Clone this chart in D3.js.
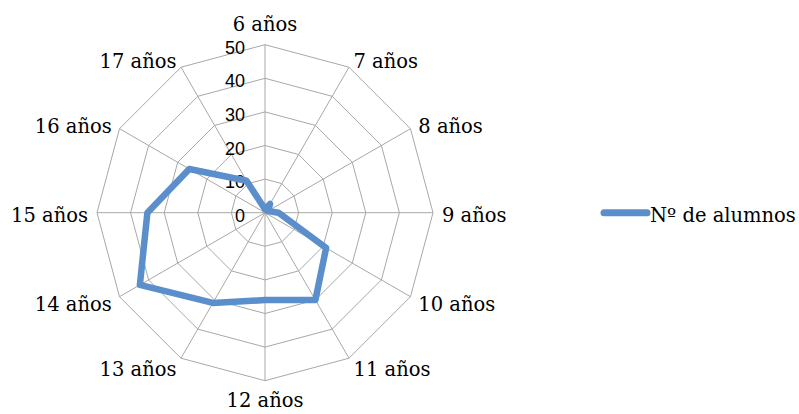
<!DOCTYPE html>
<html>
<head>
<meta charset="utf-8">
<title>Nº de alumnos</title>
<script src="https://cdn.jsdelivr.net/npm/d3@7"></script>
<style>
  body { margin: 0; background: #fff; }
</style>
</head>
<body>
<div id="chart"></div>
<script>
// data
var categories = ["6 años", "7 años", "8 años", "9 años", "10 años", "11 años",
                  "12 años", "13 años", "14 años", "15 años", "16 años", "17 años"];
var alumnos = [1, 3, 1, 4, 21, 30, 26, 31, 43, 35, 26, 11];
var ticks = [0, 10, 20, 30, 40, 50];
var seriesName = "Nº de alumnos";

var width = 799, height = 414;
var cx = 265, cy = 212.7, radius = 168;
var lineColor = "#5b8fcb";
var gridColor = "#a8a8a8";

var svg = d3.select("#chart").append("svg")
    .attr("width", width)
    .attr("height", height);

var r = d3.scaleLinear().domain([0, 50]).range([0, radius]);
var angle = d3.scaleLinear().domain([0, categories.length]).range([0, 2 * Math.PI]);

function px(i, v) { return cx + r(v) * Math.sin(angle(i)); }
function py(i, v) { return cy - r(v) * Math.cos(angle(i)); }

// rings
svg.append("g").selectAll("polygon").data(ticks.slice(1)).enter().append("polygon")
    .attr("points", function(t) {
        return categories.map(function(c, i) { return px(i, t) + "," + py(i, t); }).join(" ");
    })
    .attr("fill", "none")
    .attr("stroke", gridColor)
    .attr("stroke-width", 1);

// spokes
svg.append("g").selectAll("line").data(categories).enter().append("line")
    .attr("x1", cx).attr("y1", cy)
    .attr("x2", function(d, i) { return px(i, 50); })
    .attr("y2", function(d, i) { return py(i, 50); })
    .attr("stroke", gridColor)
    .attr("stroke-width", 1);

// value labels on the vertical axis
svg.append("g").selectAll("text").data(ticks).enter().append("text")
    .attr("x", cx - 20)
    .attr("y", function(t) { return cy - r(t) + 3; })
    .attr("text-anchor", "end")
    .attr("dominant-baseline", "central")
    .style("font-family", "'Liberation Sans', Arial, sans-serif")
    .style("font-size", "18px")
    .style("fill", "#000")
    .text(function(t) { return t; });

// category labels
svg.append("g").selectAll("text").data(categories).enter().append("text")
    .attr("x", function(d, i) { return px(i, 50) + 9 * Math.sin(angle(i)); })
    .attr("y", function(d, i) {
        var c = Math.cos(angle(i)), s = Math.sin(angle(i));
        var extra = Math.abs(s) < 0.01 ? -10 * c : 3;
        return py(i, 50) - 10 * c + extra;
    })
    .attr("text-anchor", function(d, i) {
        var s = Math.sin(angle(i));
        return s > 0.01 ? "start" : (s < -0.01 ? "end" : "middle");
    })
    .attr("dominant-baseline", "central")
    .style("font-family", "'DejaVu Serif', serif")
    .style("font-size", "19.5px")
    .style("fill", "#000")
    .text(function(d) { return d; });

// series
var radar = d3.lineRadial()
    .angle(function(d, i) { return angle(i); })
    .radius(function(d) { return r(d); })
    .curve(d3.curveLinearClosed);

svg.append("path")
    .datum(alumnos)
    .attr("transform", "translate(" + cx + "," + cy + ")")
    .attr("d", radar)
    .attr("fill", "none")
    .attr("stroke", lineColor)
    .attr("stroke-width", 6.5)
    .attr("stroke-linejoin", "round");

// legend
var legend = svg.append("g");
legend.append("line")
    .attr("x1", 604).attr("x2", 647)
    .attr("y1", 212.7).attr("y2", 212.7)
    .attr("stroke", lineColor)
    .attr("stroke-width", 7)
    .attr("stroke-linecap", "round");
legend.append("text")
    .attr("x", 650).attr("y", 215)
    .attr("dominant-baseline", "central")
    .style("font-family", "'DejaVu Serif', serif")
    .style("font-size", "19.5px")
    .style("fill", "#000")
    .text(seriesName);
</script>
</body>
</html>
